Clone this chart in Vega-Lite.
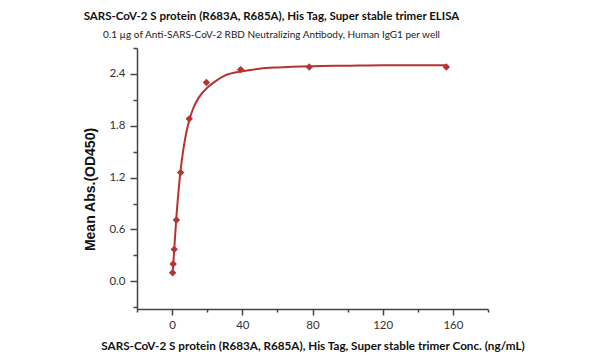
{
  "$schema": "https://vega.github.io/schema/vega-lite/v6.json",
  "autosize": "none",
  "width": 351,
  "height": 261,
  "padding": {"left": 137, "top": 48, "right": 112, "bottom": 54},
  "background": "white",
  "config": {"view": {"stroke": null}},
  "title": {
    "text": "SARS-CoV-2 S protein (R683A, R685A), His Tag, Super stable trimer ELISA",
    "subtitle": "0.1 µg of Anti-SARS-CoV-2 RBD Neutralizing Antibody, Human IgG1 per well",
    "font": "Lato",
    "fontSize": 11.5,
    "fontWeight": "bold",
    "color": "#111",
    "subtitleFont": "Lato",
    "subtitleFontSize": 10,
    "subtitleColor": "#222",
    "subtitlePadding": 8,
    "offset": 7,
    "dx": -41,
    "anchor": "middle"
  },
  "datasets": {
    "pts": [
      {"conc": 156.25, "od": 2.48},
      {"conc": 78.125, "od": 2.48},
      {"conc": 39.06, "od": 2.45},
      {"conc": 19.53, "od": 2.30},
      {"conc": 9.77, "od": 1.88},
      {"conc": 4.88, "od": 1.26},
      {"conc": 2.44, "od": 0.71},
      {"conc": 1.22, "od": 0.37},
      {"conc": 0.61, "od": 0.20},
      {"conc": 0.305, "od": 0.10}
    ],
    "curve": [
      {"conc": 0.3, "od": 0.10},
      {"conc": 0.5, "od": 0.16},
      {"conc": 0.75, "od": 0.23},
      {"conc": 1.0, "od": 0.30},
      {"conc": 1.5, "od": 0.46},
      {"conc": 2.0, "od": 0.61},
      {"conc": 2.5, "od": 0.76},
      {"conc": 3.0, "od": 0.89},
      {"conc": 4.0, "od": 1.12},
      {"conc": 5.0, "od": 1.31},
      {"conc": 6.0, "od": 1.47},
      {"conc": 7.0, "od": 1.60},
      {"conc": 8.0, "od": 1.71},
      {"conc": 10.0, "od": 1.88},
      {"conc": 12.0, "od": 2.00},
      {"conc": 15.0, "od": 2.12},
      {"conc": 20.0, "od": 2.24},
      {"conc": 25.0, "od": 2.32},
      {"conc": 30.0, "od": 2.38},
      {"conc": 40.0, "od": 2.43},
      {"conc": 50.0, "od": 2.46},
      {"conc": 60.0, "od": 2.475},
      {"conc": 80.0, "od": 2.49},
      {"conc": 100.0, "od": 2.495},
      {"conc": 120.0, "od": 2.50},
      {"conc": 156.25, "od": 2.50}
    ]
  },
  "encoding": {
    "x": {
      "field": "conc",
      "type": "quantitative",
      "scale": {"domain": [-20, 180], "nice": false, "zero": false},
      "axis": {
        "title": "SARS-CoV-2 S protein (R683A, R685A), His Tag, Super stable trimer Conc. (ng/mL)",
        "values": [-20, 0, 20, 40, 60, 80, 100, 120, 140, 160, 180],
        "labelExpr": "(datum.value % 40 == 0) ? datum.label : ''",
        "tickSize": {"condition": {"test": "datum.value % 40 == 0", "value": 6}, "value": 3},
        "grid": false,
        "domainColor": "#444",
        "domainWidth": 1.5,
        "tickColor": "#444",
        "tickWidth": 1.5,
        "labelFont": "Lato",
        "labelFontSize": 11.5,
        "labelColor": "#333",
        "labelPadding": 4,
        "titleFont": "Lato",
        "titleFontSize": 11.7,
        "titleFontWeight": "bold",
        "titleColor": "#111",
        "titlePadding": 10
      }
    },
    "y": {
      "field": "od",
      "type": "quantitative",
      "scale": {"domain": [-0.32, 2.7], "nice": false, "zero": false},
      "axis": {
        "title": "Mean Abs.(OD450)",
        "titleY": 141,
        "values": [-0.3, 0, 0.3, 0.6, 0.9, 1.2, 1.5, 1.8, 2.1, 2.4, 2.7],
        "labelExpr": "(abs(datum.value / 0.6 - round(datum.value / 0.6)) < 0.01 && datum.value > -0.1 && datum.value < 2.5) ? format(datum.value, '.1f') : ''",
        "tickSize": {"condition": {"test": "abs(datum.value / 0.6 - round(datum.value / 0.6)) < 0.01", "value": 7}, "value": 4},
        "grid": false,
        "domainColor": "#444",
        "domainWidth": 1.5,
        "tickColor": "#444",
        "tickWidth": 1.5,
        "labelFont": "Lato",
        "labelFontSize": 11.5,
        "labelColor": "#333",
        "labelPadding": 5,
        "titleFont": "Liberation Sans",
        "titleFontSize": 14,
        "titleFontWeight": "bold",
        "titleColor": "#111",
        "titlePadding": 11
      }
    }
  },
  "layer": [
    {
      "data": {"name": "curve"},
      "mark": {"type": "line", "color": "#b83232", "strokeWidth": 2, "interpolate": "monotone"}
    },
    {
      "data": {"name": "pts"},
      "mark": {"type": "point", "shape": "diamond", "filled": true, "color": "#b83232", "size": 55, "opacity": 1}
    }
  ]
}
